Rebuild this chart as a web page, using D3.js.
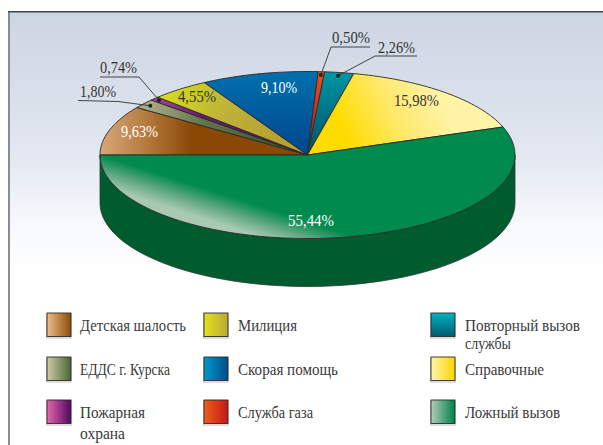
<!DOCTYPE html>
<html><head><meta charset="utf-8">
<style>html,body{margin:0;padding:0;background:#fff}svg{display:block}text{font-family:"Liberation Serif",serif}</style>
<script src="https://cdn.jsdelivr.net/npm/d3@7/dist/d3.min.js"></script>
</head><body><div id="c"></div>
<script>
const categories = ["Детская шалость","ЕДДС г. Курска","Пожарная охрана","Милиция","Скорая помощь","Служба газа","Повторный вызов службы","Справочные","Ложный вызов"];
const values = [9.63,1.80,0.74,4.55,9.10,0.50,2.26,15.98,55.44];
const valueLabels = ["9,63%","1,80%","0,74%","4,55%","9,10%","0,50%","2,26%","15,98%","55,44%"];
const labelColors = ["#fff","#333","#333","#333","#fff","#333","#333","#333","#fff"];
const legendLines = [["Детская шалость"],["ЕДДС г. Курска"],["Пожарная","охрана"],["Милиция"],["Скорая помощь"],["Служба газа"],["Повторный вызов","службы"],["Справочные"],["Ложный вызов"]];

const W=603,H=445,cx=307.5,cy=155,rx=207.5,ry=83.5,depth=48;
const svg=d3.select("#c").append("svg").attr("width",W).attr("height",H);
const defs=svg.append("defs");
function grad(id,x1,y1,x2,y2,stops){
  const g=defs.append("linearGradient").attr("id",id).attr("gradientUnits","userSpaceOnUse")
    .attr("x1",x1).attr("y1",y1).attr("x2",x2).attr("y2",y2);
  stops.forEach(s=>g.append("stop").attr("offset",s[0]).attr("stop-color",s[1]));
  return `url(#${id})`;
}
const bg=grad("bg",0,13,0,275,[[0,"#ccd5e2"],[.55,"#e3e8f1"],[.8,"#f6f8fb"],[1,"#fff"]]);
svg.append("rect").attr("x",9).attr("y",12).attr("width",W-9).attr("height",265).attr("fill",bg);
svg.append("rect").attr("x",8).attr("y",11).attr("width",2).attr("height",H-11).attr("fill","#8b8b90");
svg.append("rect").attr("x",8).attr("y",11).attr("width",W-8).attr("height",1.5).attr("fill","#45454f");

// slice fills
const fills=[
 grad("s0",100,0,192,0,[[0,"#d9a878"],[.5,"#b57a40"],[1,"#8a4804"]]),
 grad("s1",150,105,300,152,[[0,"#a9aa84"],[.35,"#64754a"],[1,"#33502c"]]),
 grad("s2",155,102,300,152,[[0,"#a8429c"],[.3,"#701a78"],[1,"#4f0d60"]]),
 grad("s3",170,90,280,140,[[0,"#d4d81e"],[.5,"#bdb23a"],[1,"#b8a030"]]),
 grad("s4",0,72,0,155,[[0,"#0070ad"],[1,"#00468c"]]),
 grad("s5",0,72,0,155,[[0,"#e8501e"],[1,"#b81018"]]),
 grad("s6",0,72,0,155,[[0,"#0096a4"],[1,"#004f68"]]),
 grad("s7",345,135,435,90,[[0,"#ffdc00"],[.55,"#ffe96e"],[1,"#fff3a6"]]),
 grad("s8",235,198,226,226,[[0,"#008a4e"],[.5,"#5ea680"],[1,"#a9c9b3"]])
];
const legendFills=[
 ["#eebc88","#8c4c0a"],["#cfcba6","#4c6434"],["#e468b0","#50085e"],["#e2e31a","#b8a838"],
 ["#0098c8","#004c8c"],["#f06018","#c01818"],["#00b4c0","#005a70"],["#fff5a8","#ffd400"],["#b0cdb8","#008048"]
];
legendFills.forEach((c,i)=>{
  const lg=defs.append("linearGradient").attr("id","l"+i);
  if(i===6) lg.attr("x1",0).attr("y1",0).attr("x2",0).attr("y2",1);
  lg.selectAll("stop").data(c).join("stop").attr("offset",(d,j)=>j).attr("stop-color",d=>d);
});

const px=a=>cx+rx*Math.sin(a), py=a=>cy-ry*Math.cos(a);
const wall=d3.range(0,61).map(i=>Math.PI/2+Math.PI*i/60);
const wallLine=d3.line().x(d=>d[0]).y(d=>d[1]);
const wallPts=wall.map(a=>[px(a),py(a)]).concat(wall.slice().reverse().map(a=>[px(a),py(a)+depth]));
svg.append("path").attr("d",wallLine(wallPts)+"Z").attr("fill","#005c2f").attr("stroke","#2b3b32").attr("stroke-width",.8);

const pie=d3.pie().sort(null).startAngle(-Math.PI/2).endAngle(Math.PI*1.5);
const arcs=pie(values);
const outline=d=>{const n=Math.max(4,Math.ceil((d.endAngle-d.startAngle)*40));
  const pts=[[cx,cy]];for(let i=0;i<=n;i++){const a=d.startAngle+(d.endAngle-d.startAngle)*i/n;pts.push([px(a),py(a)]);}
  return wallLine(pts)+"Z";};
svg.selectAll("path.slice").data(arcs).join("path").attr("class","slice")
  .attr("d",outline).attr("fill",(d,i)=>fills[i]).attr("stroke","#2a2a2a").attr("stroke-width",.9).attr("stroke-linejoin","round");

// value labels: [left, baseline, width]
const labelPos=[[121,137,37],[80,97,36],[100,73,37],[178,102,38],[261,93,36],[332,43,38],[378,53,37],[394,106,45],[288,226,46]];
svg.selectAll("text.val").data(valueLabels).join("text").attr("class","val")
  .attr("x",(d,i)=>labelPos[i][0]).attr("y",(d,i)=>labelPos[i][1])
  .attr("textLength",(d,i)=>labelPos[i][2]).attr("lengthAdjust","spacingAndGlyphs")
  .attr("font-size",16.5).attr("fill",(d,i)=>labelColors[i]).text(d=>d);

const leaders=[[1,.96,[[78,100.5],[118,101.5]]],[2,.97,[[100,77],[139,77]]],[5,.96,[[370,47],[331,47]]],[6,.96,[[417,56],[375,56]]]];
leaders.forEach(([i,f,pts])=>{
  const a=(arcs[i].startAngle+arcs[i].endAngle)/2;
  const end=[cx+rx*f*Math.sin(a),cy-ry*f*Math.cos(a)];
  svg.append("path").attr("d",wallLine(pts.concat([end]))).attr("fill","none").attr("stroke","#333").attr("stroke-width",.9);
  svg.append("circle").attr("cx",end[0]).attr("cy",end[1]).attr("r",2).attr("fill","#222");
});

// legend
const colX=[47,204,431], rowY=[313,357,400];
const textX=[80,238,465];
const lineWidths=[[106],[90],[65,45],[59],[100],[75],[115,46],[79],[95]];
categories.forEach((c,i)=>{
  const col=Math.floor(i/3), row=i%3, x=colX[col], y=rowY[row];
  svg.append("rect").attr("x",x-.5).attr("y",y+1).attr("width",24.5).attr("height",24).attr("fill","none").attr("stroke","#bbb").attr("stroke-width",1);
  svg.append("rect").attr("x",x).attr("y",y).attr("width",24).attr("height",23.5)
    .attr("fill",`url(#l${i})`).attr("stroke","#2b2b2b").attr("stroke-width",.9);
  legendLines[i].forEach((ln,j)=>{
    svg.append("text").attr("x",textX[col]).attr("y",y+18+j*(col===2?18:21))
      .attr("textLength",lineWidths[i][j]).attr("lengthAdjust","spacingAndGlyphs")
      .attr("font-size",16.5).attr("fill","#3a3a3a").text(ln);
  });
});
</script></body></html>
